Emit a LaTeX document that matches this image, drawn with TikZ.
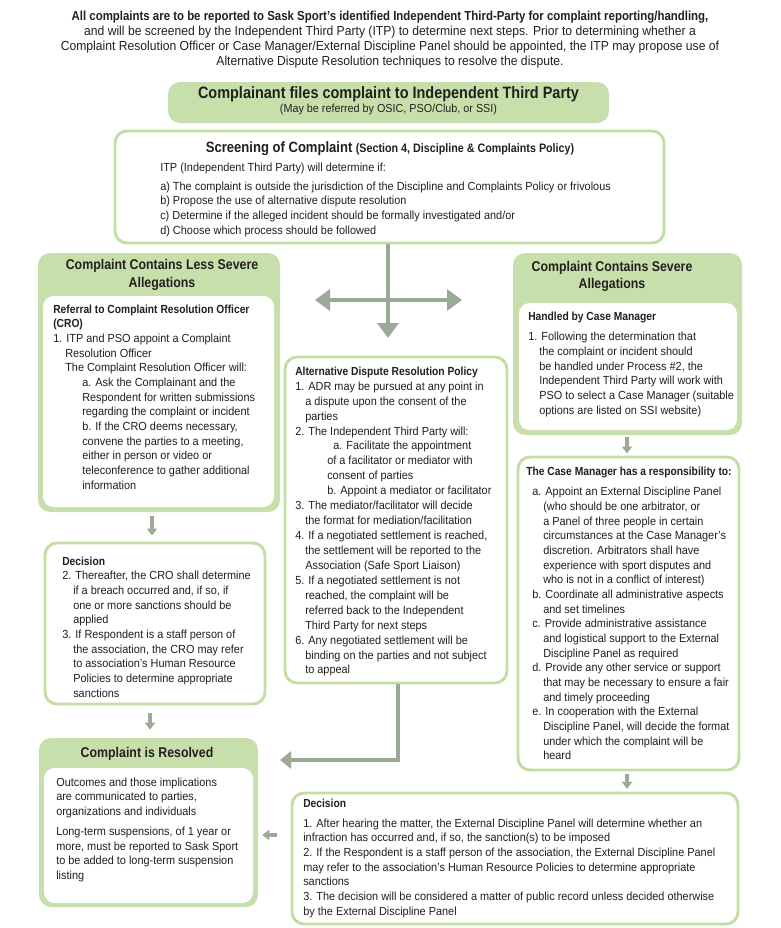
\documentclass[tikz,border=0pt]{standalone}
\usepackage{fontspec}
\setmainfont{Liberation Sans}[UprightFeatures={FakeStretch=0.93}, BoldFeatures={FakeStretch=0.875}]
\usetikzlibrary{arrows.meta,fit,calc}
\definecolor{gfill}{HTML}{C7E0AB}
\definecolor{gline}{HTML}{C3DDA5}
\definecolor{arr}{HTML}{9AAA97}
\definecolor{ink}{HTML}{231F20}
\newcommand\fBody{\fontsize{8.8}{11}\selectfont}
\newcommand\fAdr{\fontsize{8.8}{11.2}\selectfont}
\newcommand\fTop{\fontsize{9.8}{11.4}\selectfont}
\newcommand\fTitle{\fontsize{10.6}{13.5}\selectfont\bfseries}
\newcommand\fBig{\fontsize{12.4}{14}\selectfont\bfseries}
\newcommand\fSub{\fontsize{8.7}{11}\selectfont}
\tikzset{
 gbox/.style={fill=gfill, draw=none, rounded corners=9pt, inner sep=0},
 ibox/.style={fill=white, draw=none, rounded corners=8pt, inner sep=0},
 wbox/.style={fill=white, draw=gline, line width=2.2pt, rounded corners=9pt, inner sep=0},
 txt/.style={inner sep=0, align=left, anchor=north west, font=\fBody, text=ink},
 ttl/.style={inner sep=0, align=center, anchor=north, font=\fTitle, text=ink},
 bigarr/.style={draw=arr, line width=3.4pt, -{Triangle[width=15.75pt,length=11.25pt]}},
 bigarr2/.style={draw=arr, line width=3.4pt, {Triangle[width=15.75pt,length=11.25pt]}-{Triangle[width=15.75pt,length=11.25pt]}},
 midarr/.style={draw=arr, line width=3pt, -{Triangle[width=12.75pt,length=8.25pt]}},
 smallarr/.style={draw=arr, line width=2.4pt, -{Triangle[width=7.5pt,length=5.25pt]}},
}
\begin{document}
\begin{tikzpicture}[x=0.75pt,y=-0.75pt]
\useasboundingbox (0,0) rectangle (781,928);

% intro text
\node[inner sep=0, align=center, anchor=north, font=\fTop, text=ink] (intro) at (390,10.5)
 {\textbf{All complaints are to be reported to Sask Sport’s identified Independent Third-Party for complaint reporting/handling,}\\
 and will be screened by the Independent Third Party (ITP) to determine next steps. Prior to determining whether a\\
 Complaint Resolution Officer or Case Manager/External Discipline Panel should be appointed, the ITP may propose use of\\
 Alternative Dispute Resolution techniques to resolve the dispute.};

% complainant box
\node[gbox, fit={(168,82) (609,123)}] (file) {};
\node[inner sep=0, anchor=base, font=\fBig, text=ink] (fileT) at (388.5,98.5) {Complainant files complaint to Independent Third Party};
\node[inner sep=0, anchor=base, font=\fSub, text=ink] (fileS) at (388.5,112.5) {(May be referred by OSIC, PSO/Club, or SSI)};

% screening box
\node[wbox, fit={(115,131) (664,243)}] (screen) {};
\node[inner sep=0, anchor=base, text=ink] (screenT) at (390,152)
 {{\fontsize{11.2}{13}\selectfont\bfseries Screening of Complaint} {\fontsize{9.2}{11}\selectfont\bfseries (Section 4, Discipline \& Complaints Policy)}};
\node[txt] (screenX) at (160,162.5)
 {ITP (Independent Third Party) will determine if:\\[3.25pt]
 a) The complaint is outside the jurisdiction of the Discipline and Complaints Policy or frivolous\\
 b) Propose the use of alternative dispute resolution\\
 c) Determine if the alleged incident should be formally investigated and/or\\
 d) Choose which process should be followed};

% cross arrows
\coordinate (crossD) at (388,338);
\coordinate (crossL) at (315,300);
\coordinate (crossR) at (462,300);
\draw[bigarr] (screen.south -| crossD) -- (crossD);
\draw[bigarr2] (crossL) -- (crossR);

% left: less severe
\node[gbox, fit={(38,253) (280,512)}] (less) {};
\node[ibox, fit={(43,296) (274,507)}] (lessI) {};
\node[ttl] (lessT) at (162,258.5) {Complaint Contains Less Severe\\Allegations};
\node[txt] (lessX) at (53,304.5)
 {\textbf{Referral to Complaint Resolution Officer}\\
 \textbf{(CRO)}\\
 1. ITP and PSO appoint a Complaint\\
 \hspace*{9pt}Resolution Officer\\
 \hspace*{9pt}The Complaint Resolution Officer will:\\
 \hspace*{21.75pt}a. Ask the Complainant and the\\
 \hspace*{21.75pt}Respondent for written submissions\\
 \hspace*{21.75pt}regarding the complaint or incident\\
 \hspace*{21.75pt}b. If the CRO deems necessary,\\
 \hspace*{21.75pt}convene the parties to a meeting,\\
 \hspace*{21.75pt}either in person or video or\\
 \hspace*{21.75pt}teleconference to gather additional\\
 \hspace*{21.75pt}information};

% left decision
\node[wbox, fit={(45,543) (265,704)}] (dec1) {};
\node[txt] (dec1X) at (62,556.5)
 {\textbf{Decision}\\
 2. Thereafter, the CRO shall determine\\
 \hspace*{8.25pt}if a breach occurred and, if so, if\\
 \hspace*{8.25pt}one or more sanctions should be\\
 \hspace*{8.25pt}applied\\
 3. If Respondent is a staff person of\\
 \hspace*{8.25pt}the association, the CRO may refer\\
 \hspace*{8.25pt}to association’s Human Resource\\
 \hspace*{8.25pt}Policies to determine appropriate\\
 \hspace*{8.25pt}sanctions};

% resolved
\node[gbox, fit={(39,738) (258,907)}] (res) {};
\node[ibox, fit={(44,768) (253,903)}] (resI) {};
\node[ttl] (resT) at (147,746.5) {Complaint is Resolved};
\node[txt] (resX) at (56,777.5)
 {Outcomes and those implications\\
 are communicated to parties,\\
 organizations and individuals\\[4pt]
 Long-term suspensions, of 1 year or\\
 more, must be reported to Sask Sport\\
 to be added to long-term suspension\\
 listing};

% ADR
\node[wbox, fit={(285,357) (507,683)}] (adr) {};
\node[txt, font=\fAdr] (adrX) at (295,366.5)
 {\textbf{Alternative Dispute Resolution Policy}\\
 1. ADR may be pursued at any point in\\
 \hspace*{7.5pt}a dispute upon the consent of the\\
 \hspace*{7.5pt}parties\\
 2. The Independent Third Party will:\\
 \hspace*{28.5pt}a. Facilitate the appointment\\
 \hspace*{24pt}of a facilitator or mediator with\\
 \hspace*{24pt}consent of parties\\
 \hspace*{24pt}b. Appoint a mediator or facilitator\\
 3. The mediator/facilitator will decide\\
 \hspace*{7.5pt}the format for mediation/facilitation\\
 4. If a negotiated settlement is reached,\\
 \hspace*{7.5pt}the settlement will be reported to the\\
 \hspace*{7.5pt}Association (Safe Sport Liaison)\\
 5. If a negotiated settlement is not\\
 \hspace*{7.5pt}reached, the complaint will be\\
 \hspace*{7.5pt}referred back to the Independent\\
 \hspace*{7.5pt}Third Party for next steps\\
 6. Any negotiated settlement will be\\
 \hspace*{7.5pt}binding on the parties and not subject\\
 \hspace*{7.5pt}to appeal};

% right: severe
\node[gbox, fit={(513,253) (742,435)}] (sev) {};
\node[ibox, fit={(519,303) (737,430)}] (sevI) {};
\node[ttl, font=\fontsize{10.6}{12.75}\selectfont\bfseries] (sevT) at (612,260.5) {Complaint Contains Severe\\Allegations};
\node[txt] (sevX) at (528,311.5)
 {\textbf{Handled by Case Manager}\\[4.5pt]
 1. Following the determination that\\
 \hspace*{8.25pt}the complaint or incident should\\
 \hspace*{8.25pt}be handled under Process \#2, the\\
 \hspace*{8.25pt}Independent Third Party will work with\\
 \hspace*{8.25pt}PSO to select a Case Manager (suitable\\
 \hspace*{8.25pt}options are listed on SSI website)};

% case manager
\node[wbox, fit={(518,457) (739,770)}] (cm) {};
\node[txt] (cmX) at (526,466.5)
 {\textbf{The Case Manager has a responsibility to:}\\[4.5pt]
 \hspace*{4.5pt}a. Appoint an External Discipline Panel\\
 \hspace*{12.75pt}(who should be one arbitrator, or\\
 \hspace*{12.75pt}a Panel of three people in certain\\
 \hspace*{12.75pt}circumstances at the Case Manager’s\\
 \hspace*{12.75pt}discretion. Arbitrators shall have\\
 \hspace*{12.75pt}experience with sport disputes and\\
 \hspace*{12.75pt}who is not in a conflict of interest)\\
 \hspace*{4.5pt}b. Coordinate all administrative aspects\\
 \hspace*{12.75pt}and set timelines\\
 \hspace*{4.5pt}c. Provide administrative assistance\\
 \hspace*{12.75pt}and logistical support to the External\\
 \hspace*{12.75pt}Discipline Panel as required\\
 \hspace*{4.5pt}d. Provide any other service or support\\
 \hspace*{12.75pt}that may be necessary to ensure a fair\\
 \hspace*{12.75pt}and timely proceeding\\
 \hspace*{4.5pt}e. In cooperation with the External\\
 \hspace*{12.75pt}Discipline Panel, will decide the format\\
 \hspace*{12.75pt}under which the complaint will be\\
 \hspace*{12.75pt}heard};

% bottom decision
\node[wbox, fit={(292,793) (738,924)}] (dec2) {};
\node[txt] (dec2X) at (303,798.5)
 {\textbf{Decision}\\[4pt]
 1. After hearing the matter, the External Discipline Panel will determine whether an\\
 infraction has occurred and, if so, the sanction(s) to be imposed\\
 2. If the Respondent is a staff person of the association, the External Discipline Panel\\
 may refer to the association’s Human Resource Policies to determine appropriate\\
 sanctions\\
 3. The decision will be considered a matter of public record unless decided otherwise\\
 by the External Discipline Panel};

% connectors
\coordinate (a1) at (152,0);
\coordinate (a2) at (150,0);
\coordinate (aR) at (627,0);
\coordinate (adrX0) at (398,0);
\coordinate (adrTip) at (280,760);
\coordinate (r2) at (0,835);
\draw[smallarr, shorten <=3pt, shorten >=4.5pt] (less.south -| a1) -- (dec1.north -| a1);
\draw[smallarr, shorten <=6pt, shorten >=6pt] (dec1.south -| a2) -- (res.north -| a2);
\draw[smallarr, shorten <=1.5pt, shorten >=1.5pt] (sev.south -| aR) -- (cm.north -| aR);
\draw[smallarr, shorten <=2pt, shorten >=2pt] (cm.south -| aR) -- (dec2.north -| aR);
\draw[midarr] (adr.south -| adrX0) |- (adrTip);
\draw[smallarr, shorten <=10.5pt, shorten >=3pt] (dec2.west |- r2) -- (res.east |- r2);
\end{tikzpicture}
\end{document}
